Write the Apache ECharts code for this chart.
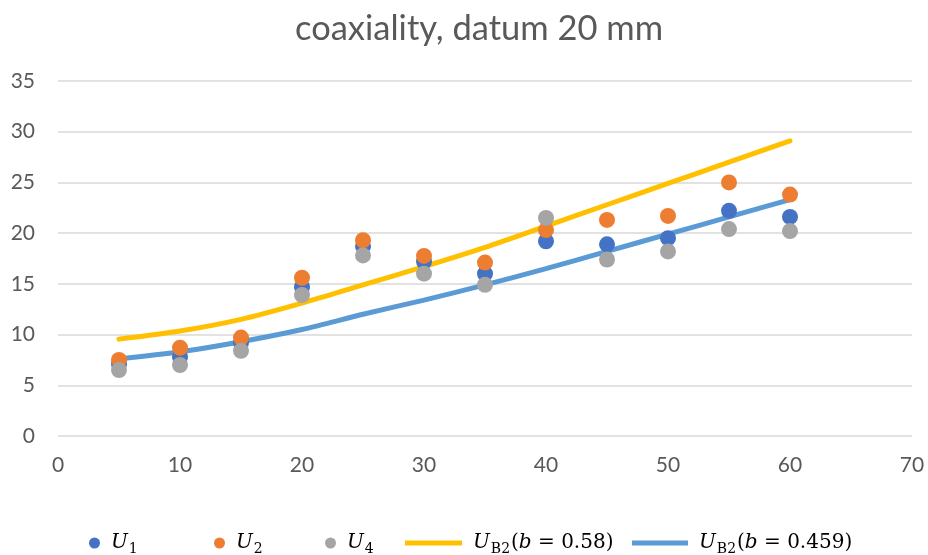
<!DOCTYPE html>
<html><head><meta charset="utf-8">
<script src="https://cdn.jsdelivr.net/npm/echarts@6/dist/echarts.min.js"></script>
<style>html,body{margin:0;padding:0;background:#fff}#c{width:928px;height:555px}</style>
</head><body><div id="c"></div>
<script>
const xs = [5, 10, 15, 20, 25, 30, 35, 40, 45, 50, 55, 60];
const u1 = [7.1, 7.8, 9.2, 14.7, 18.7, 17.2, 16.0, 19.2, 18.9, 19.5, 22.2, 21.6];
const u2 = [7.5, 8.7, 9.7, 15.6, 19.3, 17.75, 17.1, 20.3, 21.3, 21.7, 25.0, 23.8];
const u4 = [6.5, 7.0, 8.4, 13.9, 17.8, 16.0, 14.9, 21.5, 17.4, 18.2, 20.4, 20.2];
const ub058 = [9.55, 10.35, 11.5, 13.1, 14.9, 16.7, 18.6, 20.7, 22.8, 24.9, 27.0, 29.1];
const ub0459 = [7.6, 8.3, 9.3, 10.5, 12.0, 13.4, 14.9, 16.5, 18.2, 19.9, 21.6, 23.3];
const yTicks = [0, 5, 10, 15, 20, 25, 30, 35];
const xTicks = [0, 10, 20, 30, 40, 50, 60, 70];

const pair = (a) => xs.map((x, i) => [x, a[i]]);
const labelFor = {
  U1: '{i|U}{s|1}',
  U2: '{i|U}{s|2}',
  U4: '{i|U}{s|4}',
  UBa: '{i|U}{s|B2}{n|(}{i|b}{n| = 0.58)}',
  UBb: '{i|U}{s|B2}{n|(}{i|b}{n| = 0.459)}'
};
const rich = {
  i: {fontFamily: 'DejaVu Serif', fontStyle: 'italic', fontSize: 20, color: '#000', verticalAlign: 'middle'},
  n: {fontFamily: 'DejaVu Serif', fontSize: 20, color: '#000', verticalAlign: 'middle'},
  s: {fontFamily: 'DejaVu Serif', fontSize: 14, color: '#000', padding: [12, 1, 0, 1], verticalAlign: 'middle'}
};
const legendPos = [
  {name: 'U1', left: 84, icon: 'circle', w: 11, h: 11},
  {name: 'U2', left: 209, icon: 'circle', w: 11, h: 11},
  {name: 'U4', left: 320, icon: 'circle', w: 11, h: 11},
  {name: 'UBa', left: 400, icon: 'rect', w: 57, h: 5},
  {name: 'UBb', left: 627, icon: 'rect', w: 56, h: 5}
];
const colors = {U1: '#4472C4', U2: '#ED7D31', U4: '#A5A5A5', UBa: '#FFC000', UBb: '#5B9BD5'};

const chart = echarts.init(document.getElementById('c'), null, {renderer: 'canvas'});
chart.setOption({
  animation: false,
  backgroundColor: '#fff',
  title: {
    text: 'coaxiality, datum 20 mm', left: 290, top: 6,
    textStyle: {fontFamily: 'Lato', fontSize: 34.5, fontWeight: 'normal', color: '#595959'}
  },
  legend: legendPos.map(l => ({
    data: [{name: l.name, icon: l.icon}],
    left: l.left, top: 528, itemWidth: l.w, itemHeight: l.h, itemGap: 0,
    formatter: n => labelFor[n],
    textStyle: {rich: rich, padding: [0, 0, 0, 6]}
  })),
  grid: {left: 58, right: 16, top: 81, bottom: 119, containLabel: false},
  xAxis: {
    type: 'value', min: xTicks[0], max: xTicks[xTicks.length - 1], interval: 10,
    axisLine: {show: false}, axisTick: {show: false}, splitLine: {show: false},
    axisLabel: {margin: 19, fontFamily: 'Lato', fontSize: 21, color: '#595959'}
  },
  yAxis: {
    type: 'value', min: yTicks[0], max: yTicks[yTicks.length - 1], interval: 5,
    axisLine: {show: false}, axisTick: {show: false},
    splitLine: {lineStyle: {color: '#d9d9d9', width: 1.5}},
    axisLabel: {margin: 23, fontFamily: 'Lato', fontSize: 21, color: '#595959'}
  },
  series: [
    {name: 'UBa', type: 'line', data: pair(ub058), smooth: 0.3, showSymbol: false, symbol: 'none',
     lineStyle: {color: colors.UBa, width: 5, cap: 'round'}, itemStyle: {color: colors.UBa}, z: 2},
    {name: 'UBb', type: 'line', data: pair(ub0459), smooth: 0.3, showSymbol: false, symbol: 'none',
     lineStyle: {color: colors.UBb, width: 5, cap: 'round'}, itemStyle: {color: colors.UBb}, z: 2},
    {name: 'U1', type: 'scatter', data: pair(u1), symbolSize: 16, itemStyle: {color: colors.U1, opacity: 1}, z: 3},
    {name: 'U2', type: 'scatter', data: pair(u2), symbolSize: 16, itemStyle: {color: colors.U2, opacity: 1}, z: 4},
    {name: 'U4', type: 'scatter', data: pair(u4), symbolSize: 16, itemStyle: {color: colors.U4, opacity: 1}, z: 5}
  ]
});
</script></body></html>
